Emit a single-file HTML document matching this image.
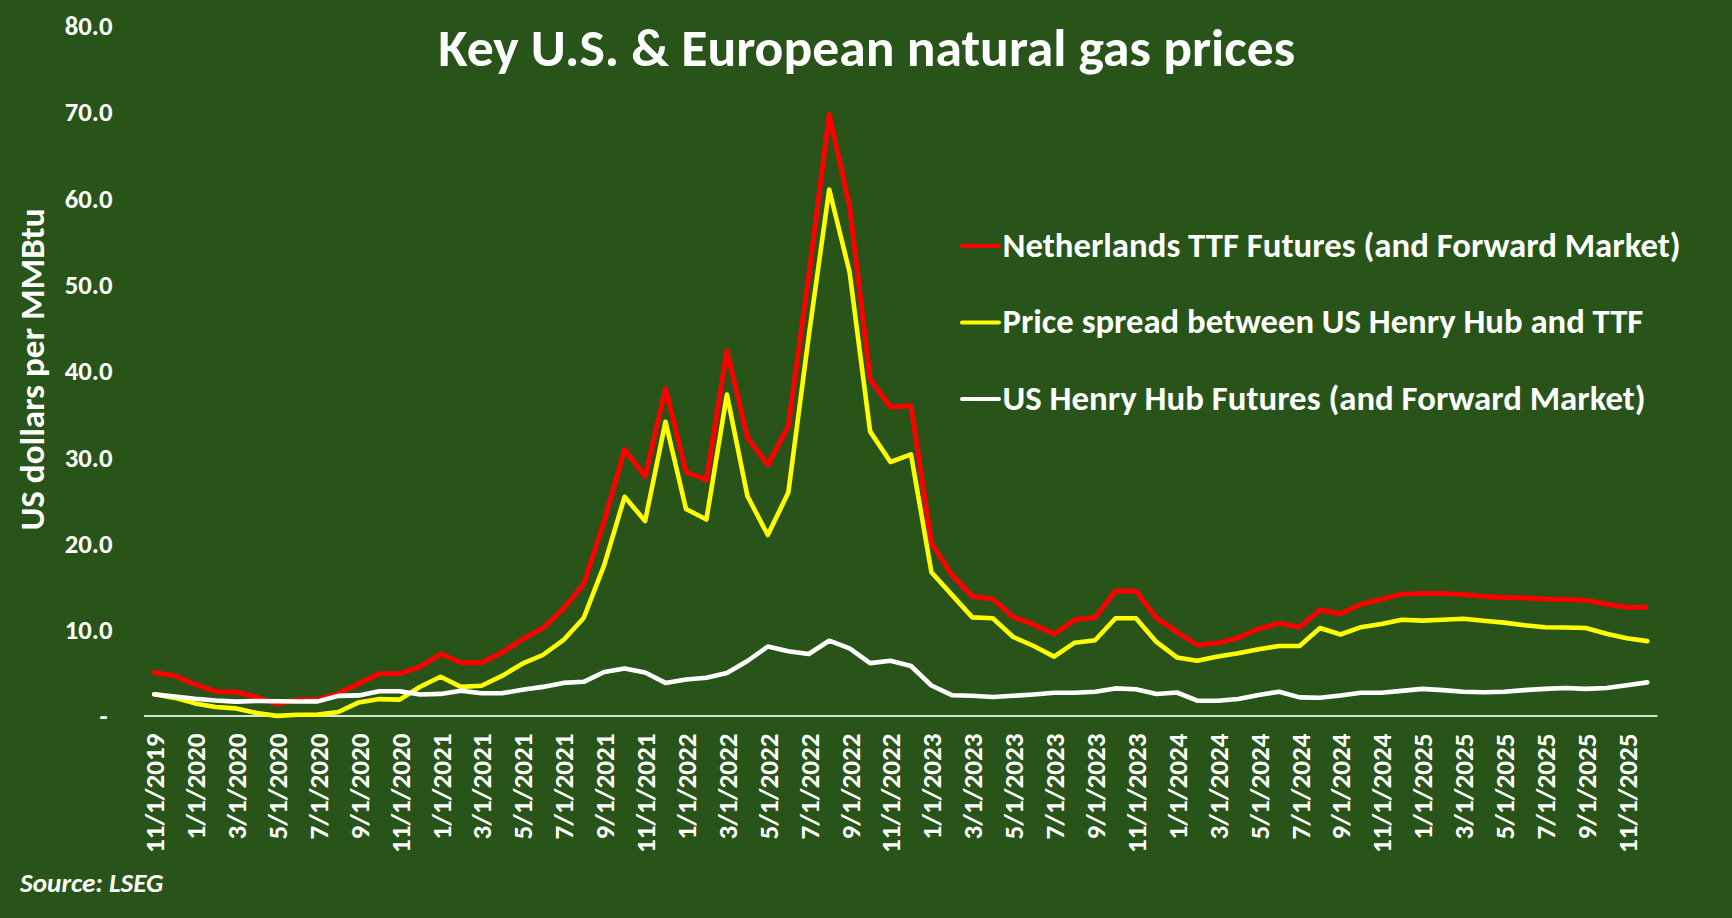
<!DOCTYPE html>
<html><head><meta charset="utf-8"><title>Key U.S. &amp; European natural gas prices</title>
<style>
html,body{margin:0;padding:0;background:#285419;}
body{width:1732px;height:918px;overflow:hidden;}
svg{display:block;}
text{font-family:Carlito, 'Liberation Sans', sans-serif;font-weight:bold;fill:#ffffff;}
</style></head>
<body>
<svg width="1732" height="918" viewBox="0 0 1732 918">
<rect x="0" y="0" width="1732" height="918" fill="#285419"/>
<text x="866.7" y="66.3" text-anchor="middle" style="font-size:53.33px" textLength="856.8" lengthAdjust="spacingAndGlyphs">Key U.S. &amp; European natural gas prices</text>
<text x="112.5" y="639.3" text-anchor="end" style="font-size:26.67px" textLength="47.7" lengthAdjust="spacingAndGlyphs">10.0</text>
<text x="112.5" y="552.9" text-anchor="end" style="font-size:26.67px" textLength="47.7" lengthAdjust="spacingAndGlyphs">20.0</text>
<text x="112.5" y="466.6" text-anchor="end" style="font-size:26.67px" textLength="47.7" lengthAdjust="spacingAndGlyphs">30.0</text>
<text x="112.5" y="380.3" text-anchor="end" style="font-size:26.67px" textLength="47.7" lengthAdjust="spacingAndGlyphs">40.0</text>
<text x="112.5" y="294.0" text-anchor="end" style="font-size:26.67px" textLength="47.7" lengthAdjust="spacingAndGlyphs">50.0</text>
<text x="112.5" y="207.6" text-anchor="end" style="font-size:26.67px" textLength="47.7" lengthAdjust="spacingAndGlyphs">60.0</text>
<text x="112.5" y="121.3" text-anchor="end" style="font-size:26.67px" textLength="47.7" lengthAdjust="spacingAndGlyphs">70.0</text>
<text x="112.5" y="35.0" text-anchor="end" style="font-size:26.67px" textLength="47.7" lengthAdjust="spacingAndGlyphs">80.0</text>
<text x="103.5" y="724.8" text-anchor="middle" style="font-size:26.67px">-</text>
<text transform="translate(44,530.6) rotate(-90)" style="font-size:35px" textLength="322.2" lengthAdjust="spacingAndGlyphs">US dollars per MMBtu</text>
<line x1="144" y1="716" x2="1657.5" y2="716" stroke="#d0e8cc" stroke-width="2.2"/>
<g fill="none" stroke-linejoin="round" stroke-linecap="round">
<circle cx="154.2" cy="672.5" r="2.5" fill="#ff0000" stroke="none"/>
<polyline points="154.2,672.5 174.7,675.7 195.1,684.5 215.6,691.4 236.0,692.0 256.5,697.0 276.9,704.0 297.4,700.0 317.8,699.5 338.3,693.6 358.8,683.4 379.2,673.7 399.7,673.7 420.1,666.8 440.6,654.0 461.0,662.8 481.5,662.8 501.9,652.4 522.4,639.3 542.8,628.0 563.3,608.8 583.7,584.0 604.2,521.0 624.6,449.5 645.1,476.5 665.5,388.5 686.0,472.0 706.4,480.0 726.9,350.7 747.4,437.5 767.8,465.0 788.3,426.0 808.7,276.0 829.2,114.5 849.6,206.6 870.1,379.5 890.5,407.0 911.0,405.7 931.4,543.4 951.9,574.8 972.3,596.5 992.8,599.1 1013.2,617.0 1033.7,624.7 1054.1,634.0 1074.6,619.8 1095.1,617.4 1115.5,590.9 1136.0,591.2 1156.4,618.0 1176.9,632.1 1197.3,645.0 1217.8,643.0 1238.2,637.8 1258.7,628.8 1279.1,623.1 1299.6,627.2 1320.0,610.0 1340.5,613.8 1360.9,604.3 1381.4,599.4 1401.8,594.2 1422.3,593.4 1442.7,593.4 1463.2,594.5 1483.7,596.5 1504.1,597.4 1524.6,598.1 1545.0,599.1 1565.5,599.4 1585.9,600.2 1606.4,604.3 1626.8,607.2 1647.3,607.2" stroke="#ff0000" stroke-width="5" stroke-linecap="butt"/>
<polyline points="154.2,694.3 174.7,697.9 195.1,703.4 215.6,707.0 236.0,708.4 256.5,713.0 276.9,715.9 297.4,714.7 317.8,714.6 338.3,712.0 358.8,702.4 379.2,699.1 399.7,699.6 420.1,686.7 440.6,676.7 461.0,686.9 481.5,685.8 501.9,675.9 522.4,663.7 542.8,655.0 563.3,640.2 583.7,618.0 604.2,565.1 624.6,496.8 645.1,521.0 665.5,421.8 686.0,509.0 706.4,519.5 726.9,394.5 747.4,496.0 767.8,535.0 788.3,492.6 808.7,336.5 829.2,189.5 849.6,272.2 870.1,431.4 890.5,462.0 911.0,454.4 931.4,572.2 951.9,594.9 972.3,617.4 992.8,618.3 1013.2,637.0 1033.7,646.0 1054.1,656.6 1074.6,642.7 1095.1,640.2 1115.5,618.2 1136.0,618.2 1156.4,641.9 1176.9,657.4 1197.3,660.7 1217.8,656.6 1238.2,653.3 1258.7,649.2 1279.1,646.0 1299.6,646.0 1320.0,628.0 1340.5,634.5 1360.9,627.2 1381.4,623.9 1401.8,619.8 1422.3,620.6 1442.7,619.8 1463.2,618.7 1483.7,620.8 1504.1,622.6 1524.6,625.2 1545.0,627.2 1565.5,627.5 1585.9,628.0 1606.4,633.7 1626.8,638.3 1647.3,641.1" stroke="#ffff00" stroke-width="4.6"/>
<polyline points="154.2,694.3 174.7,696.5 195.1,698.8 215.6,700.5 236.0,701.6 256.5,701.0 276.9,701.2 297.4,701.5 317.8,701.4 338.3,695.9 358.8,695.4 379.2,691.3 399.7,691.3 420.1,694.5 440.6,693.9 461.0,690.7 481.5,693.3 501.9,693.3 522.4,689.8 542.8,686.9 563.3,682.9 583.7,681.8 604.2,672.0 624.6,668.5 645.1,672.5 665.5,682.9 686.0,679.5 706.4,677.7 726.9,673.1 747.4,661.0 767.8,646.5 788.3,651.2 808.7,654.0 829.2,640.7 849.6,648.3 870.1,663.1 890.5,660.7 911.0,666.0 931.4,685.5 951.9,695.2 972.3,695.7 992.8,697.0 1013.2,695.8 1033.7,694.5 1054.1,692.8 1074.6,692.8 1095.1,691.7 1115.5,688.4 1136.0,689.2 1156.4,694.0 1176.9,692.5 1197.3,700.7 1217.8,700.7 1238.2,699.0 1258.7,695.0 1279.1,691.7 1299.6,697.4 1320.0,697.7 1340.5,695.5 1360.9,692.8 1381.4,692.8 1401.8,690.9 1422.3,688.9 1442.7,690.1 1463.2,691.7 1483.7,692.2 1504.1,691.7 1524.6,690.1 1545.0,688.9 1565.5,688.0 1585.9,688.9 1606.4,688.0 1626.8,685.2 1647.3,682.4" stroke="#ffffff" stroke-width="4.6"/>
</g>
<text transform="translate(164.1,733.6) rotate(-90)" text-anchor="end" style="font-size:26.67px" textLength="119.5" lengthAdjust="spacingAndGlyphs">11/1/2019</text>
<text transform="translate(205.0,733.6) rotate(-90)" text-anchor="end" style="font-size:26.67px" textLength="105.8" lengthAdjust="spacingAndGlyphs">1/1/2020</text>
<text transform="translate(245.9,733.6) rotate(-90)" text-anchor="end" style="font-size:26.67px" textLength="105.8" lengthAdjust="spacingAndGlyphs">3/1/2020</text>
<text transform="translate(286.8,733.6) rotate(-90)" text-anchor="end" style="font-size:26.67px" textLength="105.8" lengthAdjust="spacingAndGlyphs">5/1/2020</text>
<text transform="translate(327.7,733.6) rotate(-90)" text-anchor="end" style="font-size:26.67px" textLength="105.8" lengthAdjust="spacingAndGlyphs">7/1/2020</text>
<text transform="translate(368.7,733.6) rotate(-90)" text-anchor="end" style="font-size:26.67px" textLength="105.8" lengthAdjust="spacingAndGlyphs">9/1/2020</text>
<text transform="translate(409.6,733.6) rotate(-90)" text-anchor="end" style="font-size:26.67px" textLength="119.5" lengthAdjust="spacingAndGlyphs">11/1/2020</text>
<text transform="translate(450.5,733.6) rotate(-90)" text-anchor="end" style="font-size:26.67px" textLength="105.8" lengthAdjust="spacingAndGlyphs">1/1/2021</text>
<text transform="translate(491.4,733.6) rotate(-90)" text-anchor="end" style="font-size:26.67px" textLength="105.8" lengthAdjust="spacingAndGlyphs">3/1/2021</text>
<text transform="translate(532.3,733.6) rotate(-90)" text-anchor="end" style="font-size:26.67px" textLength="105.8" lengthAdjust="spacingAndGlyphs">5/1/2021</text>
<text transform="translate(573.2,733.6) rotate(-90)" text-anchor="end" style="font-size:26.67px" textLength="105.8" lengthAdjust="spacingAndGlyphs">7/1/2021</text>
<text transform="translate(614.1,733.6) rotate(-90)" text-anchor="end" style="font-size:26.67px" textLength="105.8" lengthAdjust="spacingAndGlyphs">9/1/2021</text>
<text transform="translate(655.0,733.6) rotate(-90)" text-anchor="end" style="font-size:26.67px" textLength="119.5" lengthAdjust="spacingAndGlyphs">11/1/2021</text>
<text transform="translate(695.9,733.6) rotate(-90)" text-anchor="end" style="font-size:26.67px" textLength="105.8" lengthAdjust="spacingAndGlyphs">1/1/2022</text>
<text transform="translate(736.8,733.6) rotate(-90)" text-anchor="end" style="font-size:26.67px" textLength="105.8" lengthAdjust="spacingAndGlyphs">3/1/2022</text>
<text transform="translate(777.7,733.6) rotate(-90)" text-anchor="end" style="font-size:26.67px" textLength="105.8" lengthAdjust="spacingAndGlyphs">5/1/2022</text>
<text transform="translate(818.6,733.6) rotate(-90)" text-anchor="end" style="font-size:26.67px" textLength="105.8" lengthAdjust="spacingAndGlyphs">7/1/2022</text>
<text transform="translate(859.5,733.6) rotate(-90)" text-anchor="end" style="font-size:26.67px" textLength="105.8" lengthAdjust="spacingAndGlyphs">9/1/2022</text>
<text transform="translate(900.4,733.6) rotate(-90)" text-anchor="end" style="font-size:26.67px" textLength="119.5" lengthAdjust="spacingAndGlyphs">11/1/2022</text>
<text transform="translate(941.3,733.6) rotate(-90)" text-anchor="end" style="font-size:26.67px" textLength="105.8" lengthAdjust="spacingAndGlyphs">1/1/2023</text>
<text transform="translate(982.2,733.6) rotate(-90)" text-anchor="end" style="font-size:26.67px" textLength="105.8" lengthAdjust="spacingAndGlyphs">3/1/2023</text>
<text transform="translate(1023.1,733.6) rotate(-90)" text-anchor="end" style="font-size:26.67px" textLength="105.8" lengthAdjust="spacingAndGlyphs">5/1/2023</text>
<text transform="translate(1064.0,733.6) rotate(-90)" text-anchor="end" style="font-size:26.67px" textLength="105.8" lengthAdjust="spacingAndGlyphs">7/1/2023</text>
<text transform="translate(1105.0,733.6) rotate(-90)" text-anchor="end" style="font-size:26.67px" textLength="105.8" lengthAdjust="spacingAndGlyphs">9/1/2023</text>
<text transform="translate(1145.9,733.6) rotate(-90)" text-anchor="end" style="font-size:26.67px" textLength="119.5" lengthAdjust="spacingAndGlyphs">11/1/2023</text>
<text transform="translate(1186.8,733.6) rotate(-90)" text-anchor="end" style="font-size:26.67px" textLength="105.8" lengthAdjust="spacingAndGlyphs">1/1/2024</text>
<text transform="translate(1227.7,733.6) rotate(-90)" text-anchor="end" style="font-size:26.67px" textLength="105.8" lengthAdjust="spacingAndGlyphs">3/1/2024</text>
<text transform="translate(1268.6,733.6) rotate(-90)" text-anchor="end" style="font-size:26.67px" textLength="105.8" lengthAdjust="spacingAndGlyphs">5/1/2024</text>
<text transform="translate(1309.5,733.6) rotate(-90)" text-anchor="end" style="font-size:26.67px" textLength="105.8" lengthAdjust="spacingAndGlyphs">7/1/2024</text>
<text transform="translate(1350.4,733.6) rotate(-90)" text-anchor="end" style="font-size:26.67px" textLength="105.8" lengthAdjust="spacingAndGlyphs">9/1/2024</text>
<text transform="translate(1391.3,733.6) rotate(-90)" text-anchor="end" style="font-size:26.67px" textLength="119.5" lengthAdjust="spacingAndGlyphs">11/1/2024</text>
<text transform="translate(1432.2,733.6) rotate(-90)" text-anchor="end" style="font-size:26.67px" textLength="105.8" lengthAdjust="spacingAndGlyphs">1/1/2025</text>
<text transform="translate(1473.1,733.6) rotate(-90)" text-anchor="end" style="font-size:26.67px" textLength="105.8" lengthAdjust="spacingAndGlyphs">3/1/2025</text>
<text transform="translate(1514.0,733.6) rotate(-90)" text-anchor="end" style="font-size:26.67px" textLength="105.8" lengthAdjust="spacingAndGlyphs">5/1/2025</text>
<text transform="translate(1554.9,733.6) rotate(-90)" text-anchor="end" style="font-size:26.67px" textLength="105.8" lengthAdjust="spacingAndGlyphs">7/1/2025</text>
<text transform="translate(1595.8,733.6) rotate(-90)" text-anchor="end" style="font-size:26.67px" textLength="105.8" lengthAdjust="spacingAndGlyphs">9/1/2025</text>
<text transform="translate(1636.7,733.6) rotate(-90)" text-anchor="end" style="font-size:26.67px" textLength="119.5" lengthAdjust="spacingAndGlyphs">11/1/2025</text>
<g stroke-width="4.2" stroke-linecap="round">
<line x1="962.1" y1="245.9" x2="998.9" y2="245.9" stroke="#ff0000"/>
<line x1="962.1" y1="322.5" x2="998.9" y2="322.5" stroke="#ffff00"/>
<line x1="962.1" y1="399" x2="998.9" y2="399" stroke="#ffffff"/>
</g>
<text x="1002.5" y="256.5" style="font-size:34.67px" textLength="678.1" lengthAdjust="spacingAndGlyphs">Netherlands TTF Futures (and Forward Market)</text>
<text x="1002.5" y="333" style="font-size:34.67px" textLength="640.8" lengthAdjust="spacingAndGlyphs">Price spread between US Henry Hub and TTF</text>
<text x="1002.5" y="409.5" style="font-size:34.67px" textLength="643.1" lengthAdjust="spacingAndGlyphs">US Henry Hub Futures (and Forward Market)</text>
<text x="20" y="891.6" style="font-size:27.1px;font-style:italic" textLength="143.4" lengthAdjust="spacingAndGlyphs">Source: LSEG</text>
</svg>
</body></html>
